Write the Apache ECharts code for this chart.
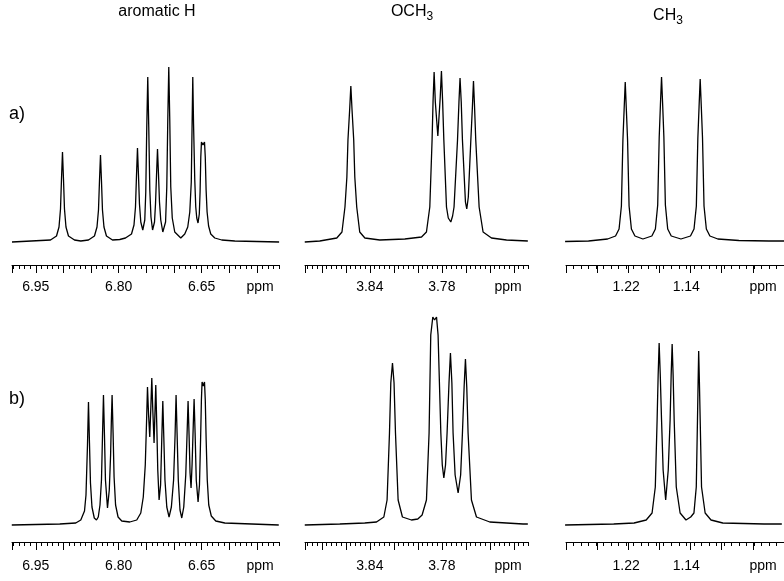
<!DOCTYPE html>
<html>
<head>
<meta charset="utf-8">
<script src="https://cdn.jsdelivr.net/npm/echarts@6/dist/echarts.min.js"></script>
<style>
html,body{margin:0;padding:0;background:#fff;}
#chart{width:784px;height:581px;}
</style>
</head>
<body>
<div id="chart"></div>
<script>
// ---- spectra: [chemical shift (ppm), intensity (a.u.)] ----
const aromaticA = [[6.993,0],[6.9234,2],[6.9125,6],[6.9080,15],[6.9053,33],[6.9035,63],[6.9017,90],[6.8999,63],[6.8981,33],[6.8954,15],[6.8909,6],[6.8800,2],[6.8686,1],[6.8547,2],[6.8439,6],[6.8393,15],[6.8366,32],[6.8348,61],[6.8330,87],[6.8312,61],[6.8294,32],[6.8267,15],[6.8222,6],[6.8113,2],[6.7981,2.5],[6.7878,4],[6.7769,8],[6.7724,17],[6.7697,35],[6.7679,66],[6.7661,94],[6.7643,67],[6.7625,38],[6.7601,20],[6.7565,12],[6.7529,22],[6.7511,50],[6.7493,115],[6.7475,165],[6.7457,115],[6.7438,52],[6.7417,25],[6.7388,12],[6.7353,20],[6.7335,38],[6.7317,66],[6.7299,93],[6.7281,68],[6.7263,40],[6.7240,22],[6.7203,10],[6.7153,20],[6.7131,55],[6.7113,122],[6.7095,175],[6.7077,122],[6.7059,55],[6.7032,24],[6.6987,10],[6.6878,4],[6.6806,8],[6.6752,15],[6.6715,30],[6.6688,60],[6.6674,115],[6.6661,165],[6.6647,118],[6.6625,62],[6.6607,35],[6.6589,24],[6.6566,19],[6.6543,28],[6.6529,50],[6.6516,85],[6.6504,100],[6.6477,97],[6.6449,100],[6.6435,85],[6.6420,52],[6.6402,30],[6.6375,16],[6.6336,8],[6.6263,4],[6.6137,2],[6.5901,1],[6.51,0]];

const methoxyA = [[3.8942,0],[3.8817,1],[3.8675,4],[3.8632,10],[3.8607,35],[3.8591,65],[3.8582,102],[3.8568,132],[3.8558,156],[3.8548,132],[3.8534,102],[3.8525,65],[3.8509,35],[3.8484,10],[3.8441,4],[3.8317,2],[3.8108,3],[3.7969,5],[3.7928,10],[3.7900,35],[3.7881,102],[3.7873,140],[3.7864,170],[3.7854,140],[3.7833,106],[3.7813,145],[3.7803,171],[3.7793,140],[3.7783,102],[3.7761,35],[3.7746,24],[3.7725,20],[3.7710,26],[3.7698,35],[3.7669,102],[3.7657,140],[3.7648,164],[3.7638,140],[3.7628,102],[3.7603,40],[3.7592,33],[3.7579,45],[3.7558,102],[3.7545,135],[3.7536,161],[3.7527,135],[3.7517,102],[3.7489,35],[3.7456,10],[3.7386,4],[3.7261,2],[3.7083,1]];

const methylA = [[1.3012,0.5],[1.27,1],[1.2447,3],[1.2341,6],[1.2294,13],[1.2263,36],[1.2243,102],[1.2227,132],[1.2212,160],[1.2197,132],[1.2181,102],[1.2161,36],[1.2130,13],[1.2083,6],[1.1977,3],[1.1858,6],[1.1811,13],[1.1780,37],[1.1760,105],[1.1744,137],[1.1729,165],[1.1714,137],[1.1698,105],[1.1678,37],[1.1647,13],[1.1600,6],[1.1471,3],[1.1344,6],[1.1297,13],[1.1266,36],[1.1246,104],[1.1230,135],[1.1215,163],[1.1200,135],[1.1184,104],[1.1164,36],[1.1133,13],[1.1086,6],[1.0980,3],[1.07,1.5],[1.03,1],[1.01,1]];

const aromaticB = [[6.9934,0],[6.9066,1],[6.8777,2],[6.8686,5],[6.8619,14],[6.8592,30],[6.8565,80],[6.8547,123],[6.8529,82],[6.8511,42],[6.8484,18],[6.8442,7],[6.8402,5],[6.8370,8],[6.8339,20],[6.8312,45],[6.8294,88],[6.8276,130],[6.8258,90],[6.8240,45],[6.8203,17],[6.8171,35],[6.8147,70],[6.8133,105],[6.8120,130],[6.8102,92],[6.8084,48],[6.8057,20],[6.8012,8],[6.7945,4],[6.7800,3],[6.7674,5],[6.7601,12],[6.7556,28],[6.7520,60],[6.7496,105],[6.7480,138],[6.7460,110],[6.7439,88],[6.7419,118],[6.7402,147],[6.7384,115],[6.7361,82],[6.7345,112],[6.7330,140],[6.7312,100],[6.7294,55],[6.7270,25],[6.7243,40],[6.7222,85],[6.7203,124],[6.7185,88],[6.7164,45],[6.7131,18],[6.7090,8],[6.7048,18],[6.7008,45],[6.6981,90],[6.6963,130],[6.6945,92],[6.6923,45],[6.6892,15],[6.6860,7],[6.6824,18],[6.6788,50],[6.6762,95],[6.6746,124],[6.6728,90],[6.6710,52],[6.6692,37],[6.6674,60],[6.6652,100],[6.6637,126],[6.6619,92],[6.6598,45],[6.6565,23],[6.6540,40],[6.6520,85],[6.6505,125],[6.6493,143],[6.6471,139],[6.6449,143],[6.6435,125],[6.6419,85],[6.6399,45],[6.6372,20],[6.6326,9],[6.6245,4],[6.6082,2],[6.5106,0]];

const methoxyB = [[3.8942,0],[3.8650,1],[3.8442,2],[3.8344,3],[3.8283,8],[3.8256,25],[3.8236,92],[3.8225,142],[3.8211,162],[3.8198,142],[3.8186,92],[3.8164,25],[3.8128,8],[3.8053,5],[3.8000,6],[3.7964,10],[3.7928,25],[3.7906,92],[3.7892,190],[3.7875,208],[3.7860,205],[3.7844,208],[3.7831,190],[3.7808,92],[3.7796,60],[3.7783,47],[3.7769,60],[3.7756,92],[3.7740,142],[3.7728,172],[3.7716,142],[3.7706,92],[3.7689,50],[3.7664,32],[3.7643,50],[3.7628,92],[3.7614,138],[3.7603,166],[3.7592,138],[3.7581,92],[3.7553,25],[3.7511,8],[3.7400,3],[3.7123,1],[3.7083,1]];

const methylB = [[1.3012,0],[1.2365,1],[1.2094,2],[1.1933,5],[1.1855,12],[1.1812,38],[1.1788,105],[1.1774,150],[1.1761,182],[1.1746,150],[1.1729,105],[1.1708,55],[1.1674,25],[1.1640,55],[1.1615,105],[1.1601,150],[1.1588,181],[1.1575,150],[1.1561,105],[1.1533,38],[1.1482,12],[1.1404,5],[1.1341,8],[1.1298,12],[1.1267,38],[1.1251,105],[1.1242,145],[1.1235,174],[1.1226,145],[1.1215,105],[1.1197,38],[1.1149,12],[1.1071,5],[1.0914,2],[1.0365,1],[1.0129,1]];

// ---- axes: ranges, ticks and labels (ppm) ----
const panelTitles = ['aromatic H', 'OCH3', 'CH3'];
const rowLabels = ['a)', 'b)'];
const axisUnit = 'ppm';
const xRanges = [[6.51, 6.993], [3.708, 3.894], [1.01, 1.30]];
const firstMajor = [6.55, 3.72, 1.02];   // lowest major tick of each axis
const majorStep = [0.05, 0.02, 0.04];
const minorStep = [0.01, 0.004, 0.01];
const tickLabels = [[6.95, 6.80, 6.65], [3.84, 3.78], [1.22, 1.14]];
const spectra = [[aromaticA, methoxyA, methylA], [aromaticB, methoxyB, methylB]];

// ---- layout ----
const colLeft = [12, 305, 566];
const colWidth = [267.1, 223.2, 246.5];
const rowTop = [40, 310];
const rowHeight = [225, 232];
const yRange = [[-23, 202], [-17, 215]];
const labelMargin = [15, 17];
const ppmX = [260, 508, 763];
const ppmY = [287, 566];

const FONT = 'Liberation Sans, Arial, Helvetica, sans-serif';
const grid = [], xAxis = [], yAxis = [], series = [];

function addGrid(rect, yMin, yMax) {
  grid.push(rect);
  yAxis.push({ type: 'value', gridIndex: grid.length - 1, min: yMin, max: yMax, show: false });
  return grid.length - 1;
}

for (let r = 0; r < 2; r++) {
  for (let c = 0; c < 3; c++) {
    const span = xRanges[c][1] - xRanges[c][0];
    const rect = { left: colLeft[c], top: rowTop[r], width: colWidth[c], height: rowHeight[r] };
    // main panel: spectrum + axis line + labels
    const gi = addGrid(Object.assign({}, rect), yRange[r][0], yRange[r][1]);
    xAxis.push({
      type: 'value', gridIndex: gi, inverse: true,
      min: xRanges[c][0], max: xRanges[c][1],
      axisLine: { show: true, onZero: false, lineStyle: { color: '#000', width: 1 } },
      axisTick: { show: false },
      axisLabel: { show: true, customValues: tickLabels[c], margin: labelMargin[r], color: '#000', fontSize: 14, fontFamily: FONT,
        formatter: v => Number(v).toFixed(2) },
      splitLine: { show: false }
    });
    series.push({
      type: 'line', xAxisIndex: gi, yAxisIndex: gi, data: spectra[r][c],
      showSymbol: false, symbol: 'none', clip: true, animation: false, silent: true,
      lineStyle: { color: '#000', width: 1.3 }
    });
    // minor ticks
    const gm = addGrid(Object.assign({}, rect), 0, 1);
    xAxis.push({
      type: 'value', gridIndex: gm, inverse: true,
      min: xRanges[c][0], max: xRanges[c][1], interval: minorStep[c],
      axisLine: { show: false, onZero: false },
      axisTick: { show: true, length: 4, lineStyle: { color: '#000', width: 1 } },
      axisLabel: { show: false }, splitLine: { show: false }
    });
    // major ticks: same scale, axis starting at the first major tick
    const w = colWidth[c] * (xRanges[c][1] - firstMajor[c]) / span;
    const gM = addGrid({ left: colLeft[c], top: rowTop[r], width: w, height: rowHeight[r] }, 0, 1);
    xAxis.push({
      type: 'value', gridIndex: gM, inverse: true,
      min: firstMajor[c], max: xRanges[c][1], interval: majorStep[c],
      axisLine: { show: false, onZero: false },
      axisTick: { show: true, length: 8, lineStyle: { color: '#000', width: 1 } },
      axisLabel: { show: false }, splitLine: { show: false }
    });
  }
}

const graphic = [];
const titleX = [157, 412, 668];
const titleY = [12, 12, 16];
const titleRich = { sub: { fontSize: 12, fontFamily: FONT, fill: '#000', padding: [9, 0, 0, 0] } };
panelTitles.forEach((t, i) => {
  const m = t.match(/^(.*?)(\d)$/);
  const txt = m ? m[1] + '{sub|' + m[2] + '}' : t;
  graphic.push({ type: 'text', x: titleX[i], y: titleY[i], style: {
    text: txt, font: '16px ' + FONT, fill: '#000', rich: titleRich, align: 'center', verticalAlign: 'middle' } });
});
rowLabels.forEach((t, r) => {
  graphic.push({ type: 'text', x: 9, y: [114, 399][r], style: { text: t, font: '18px ' + FONT, fill: '#000', align: 'left', verticalAlign: 'middle' } });
});
for (let r = 0; r < 2; r++) for (let c = 0; c < 3; c++) {
  graphic.push({ type: 'text', x: ppmX[c], y: ppmY[r], style: { text: axisUnit, font: '14px ' + FONT, fill: '#000', align: 'center', verticalAlign: 'middle' } });
}

const chart = echarts.init(document.getElementById('chart'), null, { renderer: 'canvas' });
chart.setOption({ animation: false, backgroundColor: '#fff', grid, xAxis, yAxis, series, graphic });
</script>
</body>
</html>
